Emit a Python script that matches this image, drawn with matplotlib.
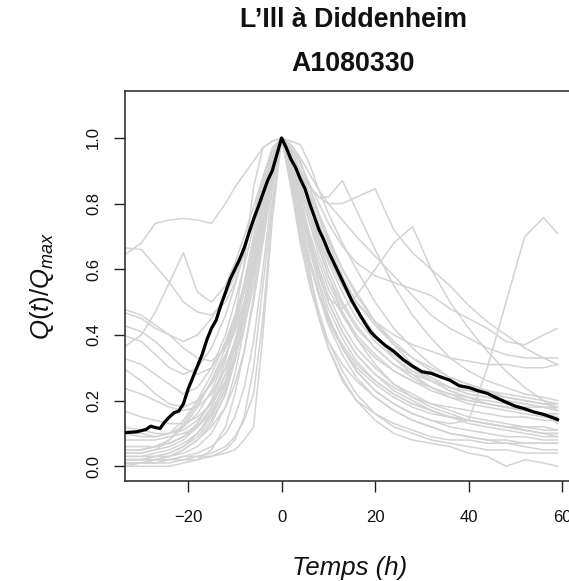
import matplotlib
matplotlib.use("Agg")
import matplotlib.pyplot as plt

plt.rcParams['font.family'] = ['Liberation Sans', 'DejaVu Sans']
plt.rcParams['mathtext.fontset'] = 'custom'
plt.rcParams['mathtext.it'] = 'Liberation Sans:italic'
plt.rcParams['mathtext.rm'] = 'Liberation Sans'

title_line1 = "L\u2019Ill à Diddenheim"
title_line2 = "A1080330"
x_label = "Temps (h)"
y_label = r"$Q(t)/Q_{max}$"
x_ticks = [-20, 0, 20, 40, 60]
y_ticks = [0.0, 0.2, 0.4, 0.6, 0.8, 1.0]
y_tick_labels = ["0.0", "0.2", "0.4", "0.6", "0.8", "1.0"]

# common time grid of the gray event hydrographs (h)
t_events = [-34, -30, -27, -24, -21, -18, -15, -12, -10, -8, -6, -4, -2, 0,
            2, 4, 6, 8, 10, 13, 16, 20, 24, 28, 32, 36, 40, 44, 48, 52, 56, 59]

ev01 = [0.01,0.01,0.01,0.01,0.02,0.02,0.03,0.05,0.08,0.15,0.30,0.55,0.80,1.0,
        0.85,0.68,0.55,0.45,0.38,0.31,0.26,0.21,0.17,0.14,0.12,0.10,0.09,0.08,0.07,0.06,0.05,0.05]
ev02 = [0.02,0.02,0.02,0.02,0.02,0.03,0.03,0.04,0.05,0.08,0.12,0.40,0.75,1.0,
        0.90,0.75,0.62,0.52,0.45,0.37,0.31,0.26,0.22,0.19,0.17,0.15,0.14,0.13,0.12,0.11,0.10,0.10]
ev03 = [0.05,0.05,0.06,0.08,0.12,0.18,0.26,0.36,0.44,0.53,0.63,0.75,0.88,1.0,
        0.92,0.82,0.70,0.60,0.52,0.43,0.36,0.30,0.25,0.22,0.19,0.17,0.15,0.14,0.13,0.12,0.12,0.11]
ev04 = [0.00,0.00,0.00,0.00,0.01,0.02,0.05,0.12,0.22,0.35,0.52,0.70,0.88,1.0,
        0.88,0.72,0.58,0.47,0.38,0.29,0.22,0.16,0.12,0.10,0.08,0.07,0.06,0.05,0.05,0.04,0.04,0.04]
ev05 = [0.03,0.03,0.03,0.03,0.04,0.06,0.10,0.18,0.28,0.42,0.58,0.74,0.90,1.0,
        0.86,0.70,0.56,0.45,0.36,0.27,0.20,0.14,0.10,0.08,0.07,0.06,0.04,0.03,0.00,0.02,0.01,0.00]
ev06 = [0.10,0.10,0.09,0.10,0.14,0.20,0.28,0.38,0.46,0.55,0.65,0.77,0.90,1.0,
        0.95,0.86,0.76,0.67,0.58,0.47,0.39,0.31,0.25,0.21,0.18,0.16,0.14,0.13,0.12,0.11,0.10,0.09]
ev07 = [0.47,0.45,0.42,0.40,0.38,0.40,0.45,0.52,0.58,0.66,0.76,0.86,0.95,1.0,
        0.96,0.90,0.82,0.74,0.66,0.56,0.48,0.40,0.34,0.30,0.26,0.23,0.21,0.19,0.18,0.17,0.16,0.16]
ev08 = [0.40,0.38,0.34,0.30,0.28,0.30,0.36,0.46,0.55,0.65,0.76,0.87,0.96,1.0,
        0.93,0.85,0.77,0.70,0.63,0.55,0.48,0.40,0.33,0.28,0.24,0.21,0.19,0.18,0.17,0.16,0.15,0.15]
ev09 = [0.33,0.31,0.28,0.25,0.22,0.24,0.30,0.40,0.50,0.61,0.73,0.85,0.95,1.0,
        0.95,0.88,0.80,0.72,0.65,0.57,0.50,0.44,0.40,0.37,0.35,0.33,0.32,0.31,0.31,0.30,0.30,0.31]
ev10 = [0.30,0.26,0.22,0.19,0.18,0.20,0.25,0.33,0.42,0.53,0.66,0.80,0.93,1.0,
        0.88,0.74,0.62,0.52,0.44,0.36,0.30,0.25,0.21,0.18,0.16,0.15,0.14,0.13,0.12,0.12,0.11,0.11]
ev11 = [0.24,0.22,0.20,0.18,0.17,0.18,0.22,0.30,0.38,0.48,0.60,0.75,0.90,1.0,
        0.93,0.84,0.74,0.64,0.56,0.47,0.40,0.34,0.29,0.26,0.24,0.22,0.21,0.20,0.19,0.18,0.18,0.17]
ev12 = [0.17,0.15,0.14,0.13,0.13,0.15,0.19,0.26,0.33,0.42,0.55,0.72,0.88,1.0,
        0.90,0.78,0.66,0.56,0.48,0.39,0.32,0.26,0.22,0.19,0.17,0.15,0.14,0.13,0.12,0.11,0.10,0.10]
ev13 = [0.12,0.11,0.10,0.10,0.11,0.14,0.19,0.28,0.37,0.48,0.62,0.78,0.92,1.0,
        0.94,0.86,0.77,0.68,0.60,0.50,0.43,0.36,0.31,0.27,0.24,0.22,0.20,0.19,0.18,0.17,0.16,0.13]
ev14 = [0.06,0.06,0.06,0.07,0.09,0.13,0.20,0.30,0.38,0.48,0.58,0.72,0.87,1.0,
        0.91,0.80,0.69,0.59,0.50,0.41,0.34,0.28,0.23,0.20,0.17,0.15,0.13,0.12,0.11,0.10,0.09,0.09]
ev15 = [0.03,0.03,0.04,0.05,0.07,0.10,0.15,0.24,0.33,0.45,0.60,0.76,0.91,1.0,
        0.97,0.92,0.85,0.77,0.70,0.60,0.52,0.44,0.38,0.33,0.29,0.26,0.24,0.22,0.21,0.20,0.19,0.19]
ev16 = [0.00,0.01,0.02,0.03,0.05,0.08,0.12,0.18,0.25,0.35,0.50,0.68,0.86,1.0,
        0.89,0.76,0.63,0.52,0.43,0.34,0.27,0.21,0.17,0.14,0.12,0.10,0.09,0.08,0.08,0.07,0.07,0.07]
ev17 = [0.01,0.01,0.01,0.02,0.03,0.04,0.06,0.10,0.15,0.24,0.38,0.60,0.84,1.0,
        0.90,0.78,0.66,0.55,0.46,0.36,0.29,0.23,0.19,0.16,0.14,0.12,0.11,0.10,0.09,0.09,0.08,0.08]
ev18 = [0.08,0.08,0.08,0.09,0.10,0.12,0.16,0.23,0.32,0.45,0.62,0.80,0.95,1.0,
        0.99,0.98,0.92,0.84,0.77,0.68,0.60,0.50,0.42,0.36,0.31,0.27,0.25,0.23,0.21,0.20,0.19,0.18]
ev19 = [0.02,0.02,0.03,0.04,0.06,0.09,0.14,0.22,0.32,0.45,0.62,0.80,0.94,1.0,
        0.96,0.90,0.85,0.82,0.82,0.87,0.78,0.66,0.55,0.46,0.39,0.33,0.29,0.26,0.24,0.22,0.21,0.20]
ev20 = [0.01,0.01,0.02,0.03,0.05,0.08,0.13,0.22,0.33,0.47,0.64,0.82,0.95,1.0,
        0.95,0.90,0.85,0.82,0.80,0.80,0.82,0.845,0.72,0.65,0.60,0.55,0.49,0.44,0.40,0.36,0.33,0.31]
ev21 = [0.02,0.02,0.03,0.04,0.06,0.10,0.16,0.26,0.36,0.48,0.63,0.79,0.93,1.0,
        0.90,0.78,0.67,0.58,0.51,0.48,0.52,0.60,0.68,0.73,0.60,0.50,0.42,0.35,0.29,0.24,0.20,0.17]
ev22 = [0.04,0.04,0.05,0.06,0.08,0.12,0.18,0.28,0.38,0.50,0.64,0.80,0.93,1.0,
        0.88,0.75,0.63,0.53,0.45,0.36,0.29,0.23,0.19,0.16,0.14,0.13,0.14,0.30,0.50,0.70,0.757,0.71]
ev23 = [0.05,0.05,0.06,0.07,0.09,0.12,0.17,0.25,0.34,0.46,0.61,0.78,0.93,1.0,
        0.97,0.92,0.86,0.80,0.74,0.67,0.62,0.58,0.56,0.54,0.52,0.48,0.45,0.42,0.38,0.37,0.40,0.42]
ev24 = [0.64,0.68,0.74,0.75,0.755,0.75,0.74,0.80,0.85,0.89,0.93,0.97,0.99,1.0,
        0.95,0.88,0.80,0.72,0.64,0.55,0.47,0.40,0.34,0.30,0.27,0.24,0.22,0.21,0.20,0.19,0.18,0.17]
ev25 = [0.666,0.66,0.61,0.56,0.50,0.47,0.46,0.50,0.56,0.65,0.76,0.88,0.97,1.0,
        0.92,0.83,0.74,0.66,0.58,0.49,0.42,0.36,0.31,0.28,0.26,0.24,0.23,0.22,0.21,0.20,0.19,0.19]
ev26 = [0.36,0.40,0.47,0.56,0.65,0.53,0.50,0.55,0.62,0.70,0.79,0.88,0.96,1.0,
        0.93,0.85,0.77,0.69,0.62,0.53,0.45,0.38,0.33,0.29,0.26,0.23,0.21,0.19,0.18,0.17,0.16,0.15]
ev27 = [0.48,0.46,0.43,0.40,0.36,0.33,0.32,0.36,0.42,0.50,0.62,0.78,0.93,1.0,
        0.90,0.79,0.68,0.58,0.50,0.41,0.34,0.28,0.24,0.21,0.19,0.18,0.17,0.16,0.15,0.15,0.14,0.14]
ev28 = [0.43,0.41,0.38,0.34,0.30,0.28,0.30,0.37,0.45,0.55,0.68,0.82,0.94,1.0,
        0.96,0.90,0.83,0.76,0.69,0.60,0.53,0.44,0.37,0.31,0.27,0.24,0.22,0.21,0.20,0.19,0.18,0.18]
ev29 = [0.05,0.05,0.06,0.07,0.09,0.13,0.20,0.32,0.45,0.62,0.85,0.97,0.99,1.0,
        0.98,0.93,0.85,0.76,0.68,0.58,0.50,0.43,0.37,0.33,0.30,0.27,0.25,0.23,0.22,0.21,0.20,0.19]
ev30 = [0.02,0.02,0.02,0.02,0.03,0.03,0.04,0.06,0.09,0.14,0.22,0.45,0.78,1.0,
        0.85,0.72,0.60,0.45,0.36,0.26,0.20,0.16,0.13,0.11,0.09,0.08,0.08,0.07,0.07,0.07,0.07,0.07]
ev31 = [0.10,0.09,0.09,0.10,0.12,0.16,0.23,0.33,0.43,0.56,0.70,0.85,0.96,1.0,
        0.98,0.94,0.89,0.84,0.80,0.75,0.70,0.64,0.58,0.52,0.46,0.42,0.39,0.36,0.34,0.33,0.33,0.33]
ev32 = [0.04,0.04,0.05,0.08,0.13,0.19,0.26,0.34,0.41,0.49,0.60,0.74,0.90,1.0,
        0.91,0.81,0.71,0.62,0.54,0.46,0.39,0.33,0.29,0.26,0.23,0.21,0.20,0.19,0.18,0.17,0.16,0.16]

events = [ev01, ev02, ev03, ev04, ev05, ev06, ev07, ev08, ev09, ev10, ev11, ev12,
          ev13, ev14, ev15, ev16, ev17, ev18, ev19, ev20, ev21, ev22, ev23, ev24,
          ev25, ev26, ev27, ev28, ev29, ev30, ev31, ev32]

# characteristic (mean) hydrograph, black line
t_mean = [-34, -31, -29, -28, -27, -26, -25, -24, -23, -22, -21, -20, -19, -18, -17,
          -16, -15, -14, -13, -12, -11, -10, -9, -8, -7, -6, -5, -4, -3, -2, -1, 0,
          1, 2, 3, 4, 5, 6, 7, 8, 9, 10, 11, 12, 13, 14, 15, 16, 17, 18, 19, 20,
          22, 24, 26, 28, 30, 32, 34, 36, 38, 40, 42, 44, 46, 48, 50, 52, 54, 56, 58, 59]
q_mean = [0.102, 0.105, 0.112, 0.122, 0.118, 0.115, 0.135, 0.150, 0.163, 0.168, 0.190,
          0.235, 0.270, 0.305, 0.340, 0.385, 0.420, 0.445, 0.490, 0.530, 0.570, 0.600,
          0.630, 0.665, 0.710, 0.752, 0.790, 0.830, 0.870, 0.900, 0.950, 1.000,
          0.970, 0.935, 0.910, 0.875, 0.845, 0.800, 0.760, 0.720, 0.690, 0.655, 0.625,
          0.595, 0.565, 0.535, 0.505, 0.480, 0.455, 0.432, 0.410, 0.395,
          0.370, 0.350, 0.325, 0.305, 0.288, 0.283, 0.272, 0.262, 0.245, 0.240, 0.230,
          0.222, 0.208, 0.195, 0.183, 0.175, 0.165, 0.158, 0.148, 0.142]

W, H = 569, 581
fig = plt.figure(figsize=(W / 100, H / 100), dpi=100)
ax = fig.add_axes([124.5 / W, (H - 480.7) / H, (579 - 124.5) / W, (480.7 - 90.7) / H])

for ev in events:
    ax.plot(t_events, ev, color='#d3d3d3', lw=1.1, solid_joinstyle='round', zorder=2)
ax.plot(t_mean, q_mean, color='black', lw=2.3, solid_joinstyle='round', zorder=3)

ax.set_xlim(-33.6, 63.6)
ax.set_ylim(-0.044, 1.144)
ax.set_xticks(x_ticks)
ax.set_xticklabels([str(v).replace('-', '\u2212') for v in x_ticks])
ax.set_yticks(y_ticks)
ax.set_yticklabels(y_tick_labels, rotation=90, va='center')
ax.tick_params(axis='both', direction='out', length=8, width=1.0, colors='#222222',
               labelsize=12, labelcolor='#111111')
ax.tick_params(axis='x', pad=13)
ax.tick_params(axis='y', pad=9)
for s in ax.spines.values():
    s.set_linewidth(1.2)
    s.set_color('#333333')

fig.text(353.5 / W, 1 - 27 / H, title_line1, ha='center', va='baseline',
         fontsize=19.3, fontweight='bold', color='#111111')
fig.text(353.5 / W, 1 - 71 / H, title_line2, ha='center', va='baseline',
         fontsize=19.3, fontweight='bold', color='#111111')
fig.text(350 / W, 1 - 568 / H, x_label, ha='center', va='center',
         fontsize=18.5, style='italic', color='#111111')
fig.text(42 / W, 1 - 285.7 / H, y_label, ha='center', va='center', rotation=90,
         fontsize=18.5, color='#111111')

fig.savefig("out.png", dpi=100)
